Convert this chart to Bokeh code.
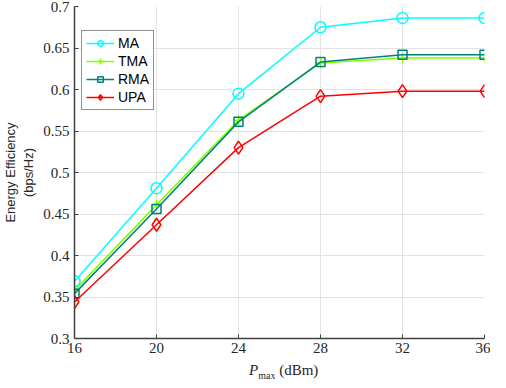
from bokeh.plotting import figure
from bokeh.models import Legend, LegendItem, Range1d, FixedTicker, Div
from bokeh.layouts import column
from bokeh.embed import file_html
from bokeh.resources import INLINE

x_vals = [16, 20, 24, 28, 32, 36]
ma = [0.369, 0.481, 0.595, 0.675, 0.686, 0.686]
tma = [0.358, 0.461, 0.563, 0.632, 0.638, 0.638]
rma = [0.354, 0.456, 0.561, 0.633, 0.642, 0.642]
upa = [0.344, 0.437, 0.530, 0.592, 0.598, 0.598]
x_ticks = [16, 20, 24, 28, 32, 36]
y_ticks = [0.3, 0.35, 0.4, 0.45, 0.5, 0.55, 0.6, 0.65, 0.7]
y_tick_labels = {0.3: "0.3", 0.35: "0.35", 0.4: "0.4", 0.45: "0.45", 0.5: "0.5",
                 0.55: "0.55", 0.6: "0.6", 0.65: "0.65", 0.7: "0.7"}

SERIF = "serif"
SANS = "Arial"

p = figure(width=490, height=358, output_backend="svg", toolbar_location=None,
           x_range=Range1d(16, 36), y_range=Range1d(0.3, 0.7),
           min_border_left=68, min_border_right=6, min_border_top=6, min_border_bottom=20)
p.outline_line_color = None
p.background_fill_color = "white"
p.border_fill_color = "white"

for ax in (p.xaxis[0], p.yaxis[0]):
    ax.axis_line_color = "#404040"
    ax.axis_line_width = 1.5
    ax.major_tick_line_color = "#404040"
    ax.major_tick_in = 4
    ax.major_tick_out = 0
    ax.minor_tick_line_color = None
    ax.major_label_text_font = SERIF
    ax.major_label_text_font_size = "15px"
    ax.major_label_text_color = "#262626"

p.xaxis.ticker = FixedTicker(ticks=x_ticks)
p.yaxis.ticker = FixedTicker(ticks=y_ticks)
p.yaxis.major_label_overrides = y_tick_labels
p.xaxis.major_label_standoff = 4
p.yaxis.major_label_standoff = 5

p.yaxis.axis_label = "Energy Efficiency\n(bps/Hz)"
p.yaxis.axis_label_text_font = SANS
p.yaxis.axis_label_text_font_style = "normal"
p.yaxis.axis_label_text_font_size = "13px"
p.yaxis.axis_label_text_color = "#262626"
p.yaxis.axis_label_standoff = 4

p.xgrid.grid_line_color = "#e3e3e3"
p.ygrid.grid_line_color = "#e3e3e3"
p.xgrid.ticker = FixedTicker(ticks=x_ticks)
p.ygrid.ticker = FixedTicker(ticks=y_ticks)

lw = 1.5
l1 = p.line(x_vals, ma, line_color="#00FFFF", line_width=lw)
m1 = p.scatter(x_vals, ma, marker="circle", size=11, line_color="#00FFFF", fill_color=None, line_width=lw)
l2 = p.line(x_vals, tma, line_color="#80FF00", line_width=lw)
m2 = p.scatter(x_vals, tma, marker="cross", size=10, line_color="#80FF00", line_width=lw)
l3 = p.line(x_vals, rma, line_color="#008080", line_width=lw)
m3 = p.scatter(x_vals, rma, marker="square", size=9, line_color="#008080", fill_color=None, line_width=lw)
l4 = p.line(x_vals, upa, line_color="#FF0000", line_width=lw)
m4 = p.scatter(x_vals, upa, marker="diamond", size=13, line_color="#FF0000", fill_color=None, line_width=lw)

legend = Legend(items=[
    LegendItem(label="MA", renderers=[l1, m1]),
    LegendItem(label="TMA", renderers=[l2, m2]),
    LegendItem(label="RMA", renderers=[l3, m3]),
    LegendItem(label="UPA", renderers=[l4, m4]),
])
legend.label_text_font = SANS
legend.label_text_font_size = "14px"
legend.label_text_color = "#000000"
legend.border_line_color = "#262626"
legend.border_line_width = 1
legend.background_fill_alpha = 1
legend.glyph_width = 28
legend.glyph_height = 14
legend.label_height = 14
legend.spacing = 2
legend.padding = 4
legend.margin = 0
legend.label_standoff = 4
legend.location = (7, 228)
p.add_layout(legend)

xlabel = Div(
    text='<i>P</i><sub style="font-size:10px">max</sub> (dBm)',
    width=490, height=14,
    styles={"font-family": "'Liberation Serif', 'Times New Roman', serif",
            "font-size": "15px", "color": "#262626",
            "padding-left": "244px", "line-height": "14px",
            "white-space": "nowrap", "box-sizing": "border-box"},
)

layout = column(p, xlabel, spacing=0)
open("out.html", "w").write(file_html(layout, INLINE))
